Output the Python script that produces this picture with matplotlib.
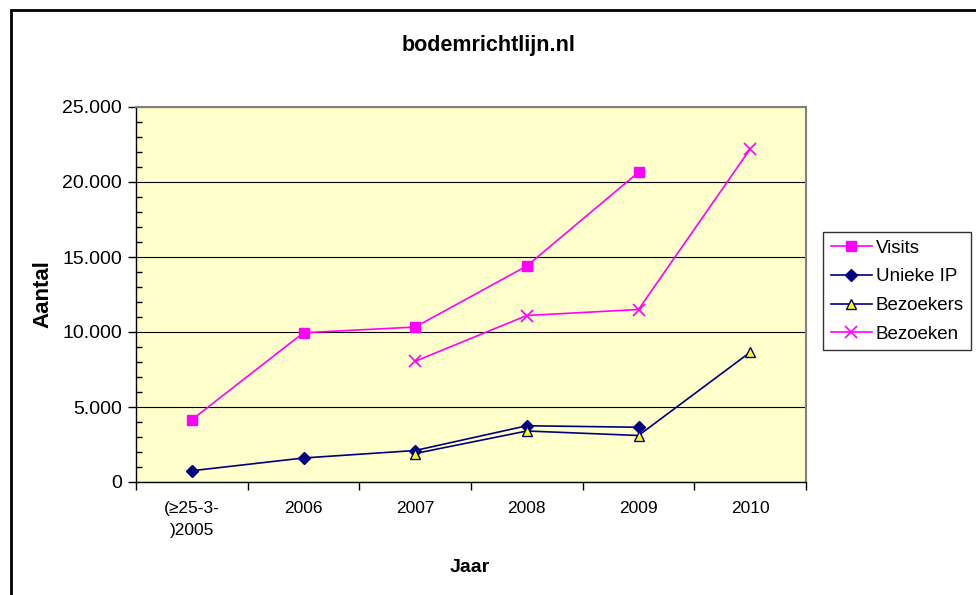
import matplotlib.pyplot as plt
import matplotlib.patches as mpatches
from matplotlib.ticker import FuncFormatter, MultipleLocator, FixedLocator
import numpy as np

plt.rcParams['font.family'] = ['Liberation Sans', 'DejaVu Sans']

# --- data ---
jaren = ['(≥25-3-\n)2005', '2006', '2007', '2008', '2009', '2010']
visits = [4150, 9950, 10330, 14400, 20650, np.nan]
unieke_ip = [750, 1600, 2100, 3750, 3650, np.nan]
bezoekers = [np.nan, np.nan, 1900, 3400, 3100, 8650]
bezoeken = [np.nan, np.nan, 8050, 11100, 11500, 22200]

W, H = 976, 595
fig = plt.figure(figsize=(W / 100, H / 100), dpi=100)

# outer chart border
fig.patches.append(mpatches.Rectangle((11 / W, -0.05), 1.1, 1 - 10 / H + 0.05,
                                      transform=fig.transFigure, fill=False,
                                      edgecolor='black', linewidth=2, zorder=0))

ax = fig.add_axes([136 / W, 1 - 482 / H, 670 / W, 375 / H])
ax.set_facecolor('#FFFFCC')

x = np.arange(len(jaren))
ax.plot(x, visits, color='#FF00FF', marker='s', markersize=7, linewidth=1.2,
        label='Visits', zorder=3)
ax.plot(x, unieke_ip, color='#000080', marker='D', markersize=6, linewidth=1.2,
        label='Unieke IP', zorder=3)
ax.plot(x, bezoekers, color='#000080', marker='^', markersize=7,
        markerfacecolor='#FFFF00', markeredgecolor='#000080', linewidth=1.2,
        label='Bezoekers', zorder=3)
ax.plot(x, bezoeken, color='#FF00FF', marker='x', markersize=8, markeredgewidth=1.2,
        linewidth=1.2, label='Bezoeken', zorder=3)

ax.set_xlim(-0.5, len(jaren) - 0.5)
ax.set_ylim(0, 25000)

# y axis: major outward, minor inward
ax.yaxis.set_major_locator(MultipleLocator(5000))
ax.yaxis.set_minor_locator(MultipleLocator(1000))
ax.yaxis.set_major_formatter(FuncFormatter(lambda v, p: f'{int(v):,}'.replace(',', '.')))
ax.tick_params(axis='y', which='major', direction='out', length=6, width=1,
               labelsize=14, pad=4)
ax.tick_params(axis='y', which='minor', direction='in', length=4, width=1)
ax.grid(axis='y', which='major', color='black', linewidth=0.8)
ax.set_axisbelow(True)

# x axis: ticks at category boundaries, labels at centres
ax.xaxis.set_major_locator(FixedLocator(np.arange(-0.5, len(jaren), 1.0)))
ax.xaxis.set_minor_locator(FixedLocator(x))
ax.xaxis.set_major_formatter(FuncFormatter(lambda v, p: ''))
ax.set_xticks(x, jaren, minor=True)
ax.tick_params(axis='x', which='major', direction='out', length=6, width=1)
ax.tick_params(axis='x', which='minor', length=0, labelsize=12.5, pad=14)
for lab in ax.get_xticklabels(minor=True):
    lab.set_linespacing(1.55)

for s in ['top', 'right']:
    ax.spines[s].set_color('#808080')
    ax.spines[s].set_linewidth(1.5)
for s in ['left', 'bottom']:
    ax.spines[s].set_color('black')
    ax.spines[s].set_linewidth(1)

fig.text(489 / W, 1 - 45 / H, 'bodemrichtlijn.nl', ha='center', va='center',
         fontsize=15.5, fontweight='bold')
fig.text(470 / W, 1 - 568 / H, 'Jaar', ha='center', va='center',
         fontsize=14, fontweight='bold')
fig.text(43 / W, 1 - 294 / H, 'Aantal', ha='center', va='center',
         fontsize=16, fontweight='bold', rotation=90)

leg = ax.legend(loc='upper left', bbox_to_anchor=(823 / W, 1 - 232 / H),
                bbox_transform=fig.transFigure, fontsize=13.5, frameon=True,
                fancybox=False, edgecolor='black', handlelength=2.2,
                borderpad=0.4, labelspacing=0.62, handletextpad=0.2,
                borderaxespad=0)
leg.get_frame().set_linewidth(1)

fig.savefig('out.png', dpi=100, facecolor='white')
